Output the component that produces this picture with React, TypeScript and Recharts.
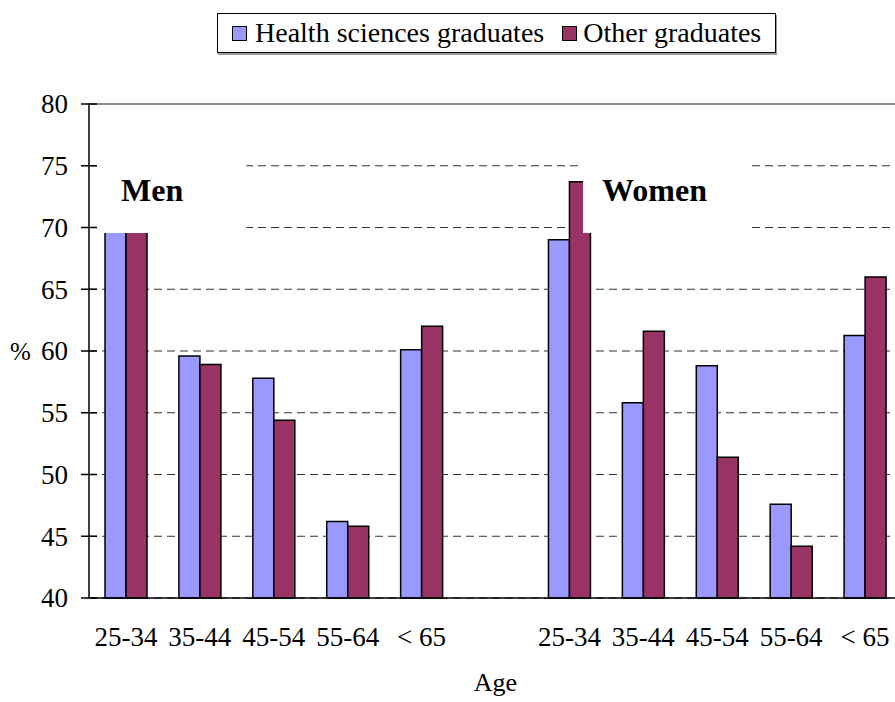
import {
  BarChart,
  Bar,
  XAxis,
  YAxis,
  CartesianGrid,
  Legend,
  ReferenceArea,
  ReferenceLine,
} from "recharts";

const FONT = "Liberation Serif, Times New Roman, serif";

// categories (unique keys) and their printed labels
const categories = ["m25", "m35", "m45", "m55", "m65", "gap", "w25", "w35", "w45", "w55", "w65"];
const tickLabels = ["25-34", "35-44", "45-54", "55-64", "< 65", "", "25-34", "35-44", "45-54", "55-64", "< 65"];

// % values (men 25-34 tops are hidden behind the label box)
const healthValues = [71.0, 59.6, 57.8, 46.2, 60.1, null, 69.0, 55.8, 58.8, 47.6, 61.25];
const otherValues = [70.6, 58.9, 54.4, 45.8, 62.0, null, 73.7, 61.6, 51.4, 44.2, 66.0];

const yTicks = [40, 45, 50, 55, 60, 65, 70, 75, 80];
const boundaryTicks = [0, 1, 2, 3, 4, 5, 6, 7, 8, 9, 10, 11];

const data = categories.map((key, i) => ({
  key,
  idx: i + 0.5,
  health: healthValues[i],
  other: otherValues[i],
}));

function YTick(props: any) {
  const { x, y, payload } = props;
  return (
    <g>
      <line x1={x + 13} x2={x + 29} y1={y} y2={y} stroke="#000" strokeWidth={1.5} />
      <text
        x={x}
        y={y}
        dy="0.35em"
        textAnchor="end"
        fontSize={27}
        fill="#000"
        style={{ fontFamily: FONT }}
      >
        {payload.value}
      </text>
    </g>
  );
}

function XTick(props: any) {
  const { x, y, index } = props;
  return (
    <text
      x={x}
      y={y}
      dy="0.71em"
      textAnchor="middle"
      fontSize={27}
      fill="#000"
      style={{ fontFamily: FONT }}
    >
      {tickLabels[index]}
    </text>
  );
}

function LegendBox({ payload }: any) {
  return (
    <div
      style={{
        display: "flex",
        alignItems: "center",
        height: 40,
        boxSizing: "border-box",
        border: "1px solid #000",
        boxShadow: "1px 2px 0 #9a9a9a",
        background: "#fff",
        paddingLeft: 14,
        fontFamily: FONT,
        fontSize: 28,
        color: "#000",
        whiteSpace: "nowrap",
      }}
    >
      {(payload || []).map((p: any, i: number) => (
        <span
          key={p.value}
          style={{ display: "flex", alignItems: "center", marginRight: i === 0 ? 18 : 0 }}
        >
          <span
            style={{
              width: 15,
              height: 15,
              boxSizing: "border-box",
              background: p.color,
              border: "1.5px solid #000",
              marginRight: i === 0 ? 8 : 6,
            }}
          />
          {p.value}
        </span>
      ))}
    </div>
  );
}

const boxLabel = (text: string, dx: number) => (props: any) => {
  const vb = props.viewBox;
  return (
    <text
      x={vb.x + dx}
      y={vb.y + vb.height - 32}
      fontSize={32}
      fontWeight="bold"
      fill="#000"
      style={{ fontFamily: FONT }}
    >
      {text}
    </text>
  );
};

export default function App() {
  return (
    <div
      style={{
        position: "absolute",
        left: 0,
        top: 0,
        width: 895,
        height: 702,
        overflow: "hidden",
        background: "#fff",
        fontFamily: FONT,
      }}
    >
      <BarChart
        width={910}
        height={702}
        data={data}
        margin={{ top: 104, right: 8, bottom: 0, left: 0 }}
        barGap={0}
        style={{ fontFamily: FONT }}
      >
        <CartesianGrid
          xAxisId="cat"
          vertical={false}
          stroke="#333"
          strokeWidth={1.2}
          strokeDasharray="8 5"
        />
        <XAxis
          xAxisId="n"
          type="number"
          dataKey="idx"
          domain={[0, 11]}
          ticks={boundaryTicks}
          allowDataOverflow
          height={0}
          axisLine={false}
          tick={false}
          tickSize={8}
          tickLine={{ stroke: "#000", strokeWidth: 1.5 }}
        />
        <XAxis
          xAxisId="cat"
          dataKey="key"
          type="category"
          height={104}
          interval={0}
          tickLine={false}
          tickSize={0}
          tickMargin={29}
          axisLine={{ stroke: "#000", strokeWidth: 1.5 }}
          tick={(p: any) => <XTick {...p} />}
          label={{
            value: "Age",
            position: "insideBottom",
            offset: 11,
            fontFamily: FONT,
            fontSize: 26,
            fill: "#000",
          }}
        />
        <YAxis
          domain={[40, 80]}
          ticks={yTicks}
          interval={0}
          width={89}
          tickSize={0}
          tickMargin={21}
          tickLine={false}
          tick={(p: any) => <YTick {...p} />}
          axisLine={{ stroke: "#000", strokeWidth: 1.5 }}
          label={{
            value: "%",
            position: "insideLeft",
            offset: 10,
            fontFamily: FONT,
            fontSize: 25,
            fill: "#000",
          }}
        />
        <Legend
          layout="vertical"
          align="center"
          verticalAlign="middle"
          content={(p: any) => <LegendBox {...p} />}
          wrapperStyle={{ position: "absolute", top: 13, left: 217, width: 559, height: 40 }}
        />
        <Bar
          xAxisId="cat"
          dataKey="health"
          name="Health sciences graduates"
          fill="#9999FF"
          stroke="#000"
          strokeWidth={1.5}
          barSize={21}
          isAnimationActive={false}
        />
        <Bar
          xAxisId="cat"
          dataKey="other"
          name="Other graduates"
          fill="#993366"
          stroke="#000"
          strokeWidth={1.5}
          barSize={21}
          isAnimationActive={false}
        />
        <ReferenceLine xAxisId="cat" y={80} stroke="#8c8c8c" strokeWidth={2} />
        <ReferenceArea
          xAxisId="n"
          x1={0.108}
          x2={2.13}
          y1={69.55}
          y2={78}
          fill="#fff"
          fillOpacity={1}
          stroke="none"
          zIndex={350}
          label={boxLabel("Men", 24)}
        />
        <ReferenceArea
          xAxisId="n"
          x1={6.685}
          x2={8.945}
          y1={69.55}
          y2={78}
          fill="#fff"
          fillOpacity={1}
          stroke="none"
          zIndex={350}
          label={boxLabel("Women", 19)}
        />
      </BarChart>
    </div>
  );
}
